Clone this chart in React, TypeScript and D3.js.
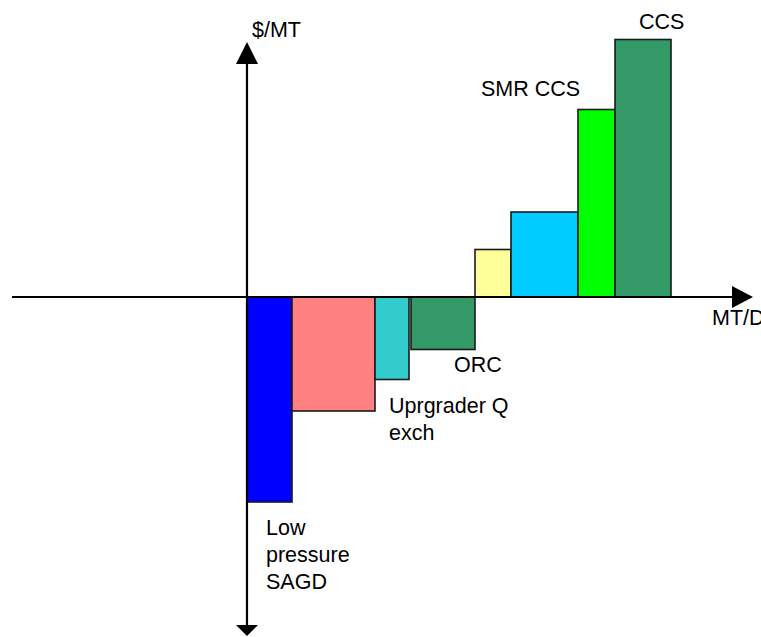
import React, { useEffect, useRef } from "react";
import * as d3 from "d3";

// abatement options, left to right
const options = ["Low pressure SAGD", "Upgrader", "Uprgrader Q exch", "ORC", "Option 5", "Option 6", "SMR CCS", "CCS"];
// volume of each option (MT/D)
const volumes = [9, 16.6, 6.8, 12.8, 7.2, 13.4, 7.4, 11.2];
// gap before each option (MT/D)
const gaps = [0, 0, 0, 0.4, 0, 0, 0, 0];
// cost of each option ($/MT)
const costs = [-82, -45.6, -33, -21, 19, 34, 75, 103];
const colors = ["#0000FF", "#FF8080", "#33CCCC", "#339966", "#FFFF99", "#00CCFF", "#00FF00", "#339966"];

// text annotations attached to bars
const labels = [
  { bar: 0, lines: ["Low", "pressure", "SAGD"] },
  { bar: 2, lines: ["Uprgrader Q", "exch"] },
  { bar: 3, lines: ["ORC"] },
  { bar: 6, lines: ["SMR CCS"] },
  { bar: 7, lines: ["CCS"] },
];

const W = 761;
const H = 637;

const App: React.FC = () => {
  const ref = useRef<SVGSVGElement | null>(null);

  useEffect(() => {
    const svg = d3.select(ref.current);
    svg.selectAll("*").remove();

    const x = d3.scaleLinear().domain([-47, 101.2]).range([12, 753]);
    const y = d3.scaleLinear().domain([102, -135.6]).range([42, 636]);

    // cumulative start positions
    let acc = 0;
    const bars = options.map((name, i) => {
      acc += gaps[i];
      const start = acc;
      acc += volumes[i];
      return { name, start, end: acc, cost: costs[i], color: colors[i] };
    });

    svg
      .append("g")
      .selectAll("rect")
      .data(bars)
      .enter()
      .append("rect")
      .attr("x", (d) => x(d.start))
      .attr("width", (d) => x(d.end) - x(d.start))
      .attr("y", (d) => Math.min(y(d.cost), y(0)))
      .attr("height", (d) => Math.abs(y(d.cost) - y(0)))
      .attr("fill", (d) => d.color)
      .attr("stroke", "#1a1a1a")
      .attr("stroke-width", 1.6);

    // axes with arrow heads
    const axis = svg.append("g").attr("stroke", "#000").attr("fill", "#000");
    const x0 = x(0);
    const y0 = y(0);
    const [xl, xr] = x.range();
    const [yt, yb] = y.range();
    axis.append("line").attr("x1", xl).attr("x2", xr - 10).attr("y1", y0).attr("y2", y0).attr("stroke-width", 2.2);
    axis.append("line").attr("x1", x0).attr("x2", x0).attr("y1", yt + 10).attr("y2", yb - 10).attr("stroke-width", 2.2);
    axis.append("path").attr("stroke", "none").attr("d", `M${xr},${y0} L${xr - 21},${y0 - 11} L${xr - 21},${y0 + 11} Z`);
    axis.append("path").attr("stroke", "none").attr("d", `M${x0},${yt} L${x0 - 11},${yt + 22} L${x0 + 11},${yt + 22} Z`);
    axis.append("path").attr("stroke", "none").attr("d", `M${x0},${yb} L${x0 - 11},${yb - 11} L${x0 + 11},${yb - 11} Z`);

    const font = "'Liberation Sans', Arial, sans-serif";
    const txt = svg.append("g").attr("font-family", font).attr("font-size", 21.5).attr("fill", "#000");

    txt.append("text").attr("x", x0 + 5).attr("y", 37).text("$/MT");
    txt.append("text").attr("x", 712).attr("y", y0 + 28).text("MT/D");

    const offsets: Record<number, [number, number]> = {
      0: [19, 33],
      2: [14, 33],
      3: [43, 22],
      6: [-97, -14],
      7: [24, -11],
    };
    labels.forEach((l) => {
      const b = bars[l.bar];
      const [dx, dy] = offsets[l.bar];
      const t = txt
        .append("text")
        .attr("x", x(b.start) + dx)
        .attr("y", y(b.cost) + dy);
      l.lines.forEach((line, k) => {
        t.append("tspan")
          .attr("x", x(b.start) + dx)
          .attr("dy", k === 0 ? 0 : 27)
          .text(line);
      });
    });
  }, []);

  return (
    <svg
      ref={ref}
      width={W}
      height={H}
      style={{ position: "absolute", left: 0, top: 0, background: "#fff" }}
    />
  );
};

export default App;
